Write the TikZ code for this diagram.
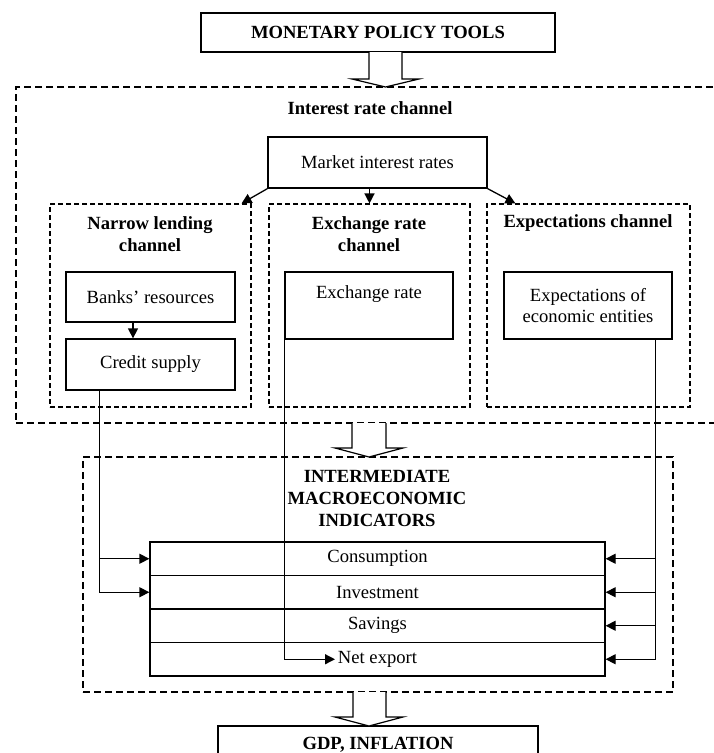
\documentclass[tikz,border=0pt]{standalone}
\usepackage{fontspec}
\setmainfont{Liberation Serif}
\usetikzlibrary{arrows.meta,calc}
\begin{document}
\begin{tikzpicture}[
    x=1pt, y=-1pt,
    font=\fontsize{18.6}{21.6}\selectfont,
    box/.style={rectangle, draw, line width=1.3pt, align=center, inner sep=0pt},
    group/.style={rectangle, draw, line width=1.1pt, dash pattern=on 5pt off 3pt, inner sep=0pt},
    outer/.style={rectangle, draw, line width=1.5pt, dash pattern=on 7pt off 4pt, inner sep=0pt},
    title/.style={font=\fontsize{18.6}{21.6}\selectfont\bfseries, align=center},
    bigarrow/.style={draw, fill=white, line width=1.2pt},
    arrow/.style={-{Triangle[length=10pt,width=10pt]}, line width=1.3pt}
]
    \useasboundingbox (0,0) rectangle (713,753);

    % Top level
    \node[box, minimum width=354, minimum height=39, font=\fontsize{18.6}{21.6}\selectfont\bfseries] (tools) at (378,32.5) {MONETARY POLICY TOOLS};

    % Interest rate channel
    \node[outer, minimum width=714, minimum height=336] (irc) at (373,255) {};
    \node[title] (irctitle) at (370,108) {Interest rate channel};
    \node[box, minimum width=219, minimum height=51] (market) at (377.5,162.5) {Market interest rates};

    % Sub channels
    \node[group, minimum width=201, minimum height=203] (narrow) at (150.5,305.5) {};
    \node[group, minimum width=201, minimum height=203] (exch) at (369.5,305.5) {};
    \node[group, minimum width=203, minimum height=203] (expch) at (588.5,305.5) {};
    \node[title] (narrowtitle) at (150,234) {Narrow lending\\channel};
    \node[title] (exchtitle) at (369,234) {Exchange rate\\channel};
    \node[title] (expchtitle) at (588,223) {Expectations channel};

    \node[box, minimum width=169, minimum height=50] (banks) at (150.5,297) {Banks’ resources};
    \node[box, minimum width=169, minimum height=51] (credit) at (150.5,364.5) {Credit supply};
    \node[box, minimum width=168, minimum height=67, text depth=27pt] (exrate) at (369,305.5) {Exchange rate};
    \node[box, minimum width=168, minimum height=67] (expect) at (588,305.5) {Expectations of\\economic entities};

    % Intermediate indicators
    \node[outer, minimum width=590, minimum height=235] (inter) at (378,574.5) {};
    \node[title] (intertitle) at (377,498.5) {INTERMEDIATE\\MACROECONOMIC\\INDICATORS};
    \node[box, minimum width=455, minimum height=33.5] (cons) at (377.5,558.75) {Consumption};
    \node[box, minimum width=455, minimum height=33.5] (inv) at (377.5,592.25) {Investment};
    \node[box, minimum width=455, minimum height=33.5] (sav) at (377.5,625.75) {Savings};
    \node[box, minimum width=455, minimum height=33.5] (netx) at (377.5,659.25) {Net export};
    \coordinate (nx) at ([xshift=-42.5pt]netx.center);

    % Result
    \node[box, minimum width=320, minimum height=40, text depth=5pt, font=\fontsize{18.6}{21.6}\selectfont\bfseries] (gdp) at (378,746) {GDP, INFLATION};

    % Block arrows
    \draw[bigarrow] (369,52) -- (369,79) -- (352,79) -- (385.5,87) -- (419,79) -- (402,79) -- (402,52);
    \draw[bigarrow] (352,423) -- (352,448) -- (335,448) -- (369,457) -- (403,448) -- (386,448) -- (386,423);
    \draw[bigarrow] (353,692) -- (353,717) -- (335,717) -- (369,726) -- (403,717) -- (386,717) -- (386,692);

    % Arrows from market rates
    \draw[arrow] (market.south west) -- ($(narrow.north east)+(-10,0)$);
    \draw[arrow] (market.south -| exch.north) -- (exch.north);
    \draw[arrow] (market.south east) -- ($(expch.north west)+(29,0)$);
    \draw[arrow] (banks.south -| 133,0) -- (credit.north -| 133,0);

    % Arrows to indicators
    \draw[arrow] ($(credit.south west)+(34,0)$) |- (cons.west);
    \draw[arrow] ($(credit.south west)+(34,0)$) |- (inv.west);
    \draw[arrow] (exrate.south west) |- (nx);
    \draw[arrow] ($(expect.south east)+(-17,0)$) |- (cons.east);
    \draw[arrow] ($(expect.south east)+(-17,0)$) |- (inv.east);
    \draw[arrow] ($(expect.south east)+(-17,0)$) |- (sav.east);
    \draw[arrow] ($(expect.south east)+(-17,0)$) |- (netx.east);
\end{tikzpicture}
\end{document}
